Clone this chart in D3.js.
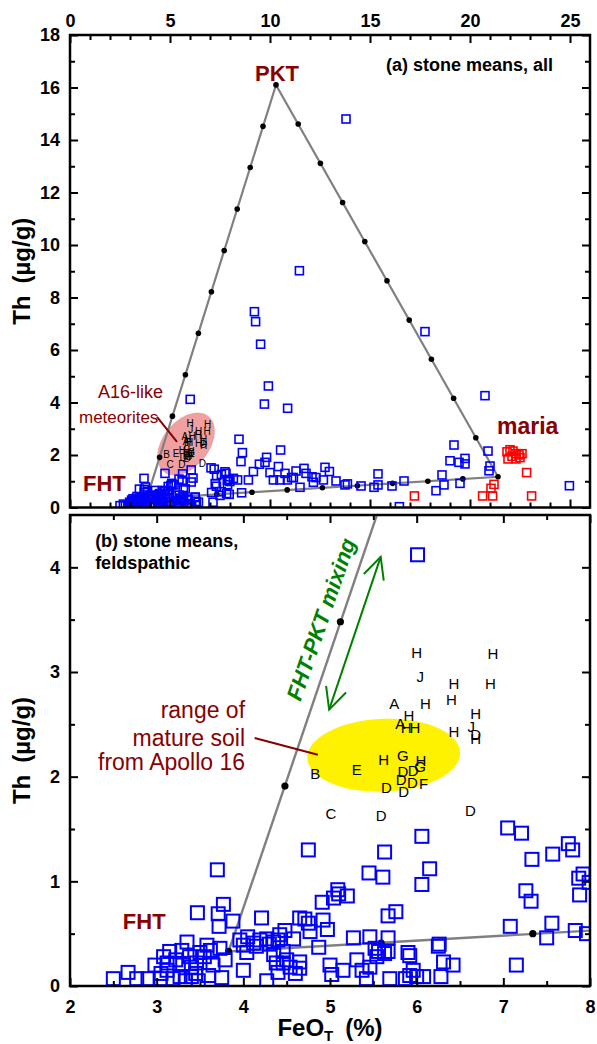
<!DOCTYPE html>
<html>
<head>
<meta charset="utf-8">
<script src="https://cdn.jsdelivr.net/npm/d3@7"></script>
<style>
  body { margin: 0; background: #fff; }
  text { font-family: 'Liberation Sans', Arial, sans-serif; }
</style>
</head>
<body>
<svg id="chart" width="597" height="1044"></svg>
<script>
// ---- data (FeO_T %, Th ug/g) ----

// mixing end members
var endMembers = [
  {name: "FHT", feo: 3.83, th: 0.33},
  {name: "PKT", feo: 10.30, th: 16.10},
  {name: "maria", feo: 21.40, th: 1.17}
];

// black dots along the mixing lines (10% steps)
var mixDots = [
  [3.83, 0.33], [10.30, 16.10], [21.40, 1.17],
  [4.48, 1.91], [5.12, 3.48], [5.77, 5.06], [6.42, 6.64], [7.07, 8.22],
  [7.71, 9.79], [8.36, 11.37], [9.01, 12.95], [9.65, 14.52],
  [11.41, 14.61], [12.52, 13.11], [13.63, 11.62], [14.74, 10.13], [15.85, 8.64],
  [16.96, 7.14], [18.07, 5.65], [19.18, 4.16], [20.29, 2.66],
  [5.59, 0.41], [7.34, 0.50], [9.10, 0.58], [10.86, 0.67], [12.62, 0.75],
  [14.37, 0.83], [16.13, 0.92], [17.89, 1.00], [19.64, 1.09]
];

// feldspathic stone means (blue, both panels)
var feldStones = [
  [6.01, 4.12],
  [3.70, 1.11], [3.77, 0.78], [3.47, 0.70], [3.71, 0.69], [3.72, 0.57], [3.88, 0.62], [4.21, 0.65],
  [4.27, 0.05], [4.00, 0.15],
  [2.50, 0.07], [2.67, 0.13], [2.77, 0.07], [2.90, 0.07], [2.98, 0.20], [3.08, 0.28], [3.15, 0.33],
  [3.35, 0.42], [3.58, 0.39], [3.29, 0.34], [3.38, 0.28], [3.50, 0.32], [3.73, 0.36], [3.75, 0.08],
  [3.65, 0.20], [3.79, 0.25], [3.46, 0.22], [3.12, 0.15], [3.04, 0.07], [3.19, 0.07], [3.27, 0.09],
  [3.40, 0.09], [3.40, 0.18], [3.12, 0.22], [3.22, 0.25], [3.30, 0.20], [3.45, 0.12], [3.55, 0.28],
  [3.62, 0.34], [3.05, 0.12], [3.33, 0.05], [3.48, 0.05], [3.60, 0.10],
  [3.96, 0.44], [4.00, 0.39], [4.04, 0.32], [4.12, 0.41], [4.19, 0.44], [4.27, 0.45], [4.35, 0.42],
  [4.42, 0.49], [4.48, 0.53], [4.58, 0.45], [4.38, 0.22], [4.46, 0.22], [4.54, 0.18], [4.46, 0.33],
  [4.65, 0.65], [4.05, 0.47], [4.15, 0.38], [4.30, 0.40], [4.40, 0.44], [4.35, 0.30], [4.50, 0.25],
  [4.60, 0.12], [4.40, 0.13],
  [4.75, 1.30], [5.63, 1.28], [6.06, 1.43], [6.15, 1.12], [6.06, 0.97], [5.45, 1.08], [5.61, 1.04],
  [5.09, 0.92], [5.10, 0.88], [5.20, 0.86], [5.04, 0.84], [4.91, 0.80], [4.71, 0.64], [4.75, 0.60],
  [4.77, 0.52], [4.92, 0.63], [4.97, 0.54], [4.87, 0.37], [5.27, 0.46], [5.46, 0.47], [5.67, 0.46],
  [5.52, 0.36], [5.56, 0.33], [5.63, 0.31], [5.54, 0.28], [5.67, 0.33], [5.90, 0.32], [5.92, 0.29],
  [5.67, 0.67], [5.76, 0.71], [6.26, 0.40], [6.25, 0.38], [6.31, 0.23], [6.42, 0.20], [6.28, 0.09],
  [5.96, 0.15], [5.92, 0.10], [5.87, 0.07], [6.00, 0.09], [6.08, 0.09], [5.69, 0.07], [5.42, 0.07],
  [5.37, 0.15], [5.46, 0.18], [5.31, 0.25], [5.15, 0.15], [5.00, 0.20], [5.02, 0.11], [4.65, 0.23],
  [4.65, 0.17],
  [7.05, 1.51], [7.21, 1.46], [7.33, 1.21], [7.57, 1.26], [7.75, 1.36], [7.80, 1.30], [7.26, 0.91],
  [7.32, 0.81], [7.87, 1.03], [7.92, 1.07], [7.99, 0.99], [7.88, 0.87], [7.08, 0.57], [7.56, 0.60],
  [7.50, 0.46], [7.83, 0.53], [7.96, 0.50], [7.15, 0.20]
];

// other non-mare stone means (blue, panel a only)
var otherStones = [
  [13.80, 14.80], [11.47, 9.02], [17.75, 6.70], [20.75, 4.26], [19.20, 2.38], [20.90, 2.15],
  [19.00, 1.78], [19.45, 1.72], [19.75, 1.87], [19.75, 1.66], [21.00, 1.58], [20.95, 1.40],
  [18.60, 1.24], [18.70, 0.86], [18.30, 0.64], [19.50, 0.92], [24.97, 0.83], [16.47, 0.03],
  [16.70, 1.01], [15.40, 1.28], [15.40, 0.86], [16.10, 0.82], [15.20, 0.77], [14.55, 0.82],
  [13.87, 0.90], [13.75, 0.86], [13.30, 1.01], [12.75, 1.53], [12.97, 1.37], [12.67, 1.05],
  [11.70, 1.49], [11.30, 1.39], [11.80, 1.30], [12.10, 1.17], [12.30, 1.14], [12.17, 0.96],
  [11.17, 1.14], [11.50, 0.77],
  [9.22, 7.46], [9.28, 7.08], [9.53, 6.22], [9.92, 4.63], [9.72, 3.94], [10.88, 3.78],
  [8.45, 2.60], [8.62, 2.09], [8.55, 1.75], [10.53, 2.19], [9.83, 1.91], [9.47, 1.65],
  [9.75, 1.72], [10.42, 1.56], [9.17, 1.37], [8.92, 1.05], [10.00, 1.33], [10.17, 1.05],
  [10.75, 1.30], [11.08, 1.14], [10.50, 1.05], [10.87, 1.05], [8.17, 1.11], [8.38, 1.05],
  [8.58, 0.56]
];

// mare stone means (red)
var mareStones = [
  [21.85, 2.12], [22.00, 2.20], [22.15, 2.15], [22.30, 2.05], [22.45, 2.00], [22.10, 1.95],
  [21.90, 1.85], [22.30, 1.85], [22.50, 1.90], [22.60, 2.05], [22.83, 1.33], [21.20, 0.88],
  [21.05, 0.73], [20.63, 0.44], [21.13, 0.44], [23.08, 0.44], [17.22, 0.44]
];

// A16-like feldspathic meteorites (letter codes)
var a16Letters = [
  ["H", 6.00, 3.19], ["H", 6.88, 3.18], ["J", 6.04, 2.96], ["H", 6.43, 2.89], ["H", 6.85, 2.89],
  ["A", 5.74, 2.70], ["H", 6.10, 2.70], ["H", 6.40, 2.74], ["H", 6.68, 2.60], ["H", 5.91, 2.58],
  ["A", 5.81, 2.51], ["H", 5.88, 2.47], ["H", 5.98, 2.47], ["H", 6.43, 2.43], ["J", 6.63, 2.48],
  ["D", 6.68, 2.40], ["H", 6.68, 2.36], ["B", 4.83, 2.03], ["E", 5.31, 2.07], ["H", 5.62, 2.16],
  ["G", 5.84, 2.20], ["H", 6.05, 2.15], ["G", 6.04, 2.10], ["D", 5.84, 2.05], ["D", 5.96, 2.06],
  ["D", 5.82, 1.97], ["D", 5.95, 1.94], ["D", 5.65, 1.90], ["D", 5.85, 1.86], ["F", 6.08, 1.93],
  ["C", 5.01, 1.65], ["D", 5.59, 1.63], ["D", 6.62, 1.68]
];

// ellipses: centre and two half-axis vectors, data units
var a16Ellipse = {cx: 5.80, cy: 2.42, ux: 1.12, uy: 1.06, vx: 0.90, vy: -0.55};
var soilEllipse = {cx: 5.62, cy: 2.205, ux: 0.877, uy: 0.057, vx: 0.092, vy: -0.344};

var xTicksA = [0, 5, 10, 15, 20, 25];
var yTicksA = [0, 2, 4, 6, 8, 10, 12, 14, 16, 18];
var xTicksB = [2, 3, 4, 5, 6, 7, 8];
var yTicksB = [0, 1, 2, 3, 4];

// ---- drawing ----
var darkRed = "#880000";
var svg = d3.select("#chart");

var xA = d3.scaleLinear().domain([0, 26]).range([70, 590]);
var yA = d3.scaleLinear().domain([0, 18]).range([507.5, 35]);
var xB = d3.scaleLinear().domain([2, 8]).range([70, 590]);
var yB = d3.scaleLinear().domain([0, 4.5]).range([986, 515]);

var defs = svg.append("defs");
[["clipA", xA, yA], ["clipB", xB, yB]].forEach(function (c) {
    defs.append("clipPath").attr("id", c[0]).append("rect")
        .attr("x", c[1].range()[0]).attr("y", c[2].range()[1])
        .attr("width", c[1].range()[1] - c[1].range()[0])
        .attr("height", c[2].range()[0] - c[2].range()[1]);
});
defs.append("marker").attr("id", "vhead")
    .attr("markerUnits", "userSpaceOnUse")
    .attr("viewBox", "-24 -13 26 26").attr("refX", 0).attr("refY", 0)
    .attr("markerWidth", 26).attr("markerHeight", 26)
    .attr("orient", "auto-start-reverse")
    .append("path").attr("d", "M-21.6,-10.5L0,0L-21.6,10.5")
    .attr("fill", "none").attr("stroke", "#008000").attr("stroke-width", 2);

function minorOf(major, step) {
    var out = [];
    for (var i = 0; i < major.length - 1; i++) {
        for (var v = major[i] + step; v < major[i + 1] - 1e-9; v += step) out.push(+v.toFixed(3));
    }
    return out;
}

function axes(x, y, xMaj, xMin, yMaj, yMin, xLabTop) {
    var g = svg.append("g");
    var y0 = y.range()[0], y1 = y.range()[1], x0 = x.range()[0], x1 = x.range()[1];
    function mk(fn, sc, vals, size, lab, pad, tr) {
        var a = fn(sc).tickValues(vals).tickSize(-size).tickSizeOuter(0).tickPadding(pad)
            .tickFormat(lab ? d3.format("d") : "");
        var ag = g.append("g").attr("transform", tr).call(a);
        ag.select(".domain").remove();
        ag.selectAll("line").attr("stroke", "#000").attr("stroke-width", 2);
        ag.selectAll("text").attr("font-size", 18).attr("font-weight", "bold").attr("fill", "#000");
    }
    mk(d3.axisTop, x, xMaj, 8, xLabTop, 8, "translate(0," + y1 + ")");
    mk(d3.axisTop, x, xMin, 5, false, 8, "translate(0," + y1 + ")");
    mk(d3.axisBottom, x, xMaj, 8, !xLabTop, 14, "translate(0," + y0 + ")");
    mk(d3.axisBottom, x, xMin, 5, false, 14, "translate(0," + y0 + ")");
    mk(d3.axisLeft, y, yMaj, 8, true, 10, "translate(" + x0 + ",0)");
    mk(d3.axisLeft, y, yMin, 5, false, 10, "translate(" + x0 + ",0)");
    mk(d3.axisRight, y, yMaj, 8, false, 10, "translate(" + x1 + ",0)");
    mk(d3.axisRight, y, yMin, 5, false, 10, "translate(" + x1 + ",0)");
    g.append("rect").attr("x", x0).attr("y", y1).attr("width", x1 - x0).attr("height", y0 - y1)
        .attr("fill", "none").attr("stroke", "#000").attr("stroke-width", 2.5);
}

function ellipsePath(e, x, y) {
    var pts = d3.range(0, 72).map(function (i) {
        var t = i / 72 * 2 * Math.PI;
        return [x(e.cx + e.ux * Math.cos(t) + e.vx * Math.sin(t)),
                y(e.cy + e.uy * Math.cos(t) + e.vy * Math.sin(t))];
    });
    return d3.line().curve(d3.curveCardinalClosed)(pts);
}

function squares(g, data, x, y, size, color, sw) {
    g.selectAll(null).data(data).enter().append("rect")
        .attr("x", function (d) { return x(d[0]) - size / 2; })
        .attr("y", function (d) { return y(d[1]) - size / 2; })
        .attr("width", size).attr("height", size)
        .attr("fill", "none").attr("stroke", color).attr("stroke-width", sw);
}

function letters(g, x, y, fs) {
    g.selectAll(null).data(a16Letters).enter().append("text")
        .attr("x", function (d) { return x(d[1]); })
        .attr("y", function (d) { return y(d[2]); })
        .attr("dy", "0.36em").attr("text-anchor", "middle")
        .attr("font-size", fs).attr("fill", "#000").text(function (d) { return d[0]; });
}

function label(g, txt, x, y, opts) {
    var t = g.append("text").attr("x", x).attr("y", y).text(txt);
    Object.keys(opts).forEach(function (k) { t.attr(k, opts[k]); });
    return t;
}

// ---------- panel (a) ----------
var gA = svg.append("g").attr("clip-path", "url(#clipA)");
var em = function (n) { return endMembers.find(function (d) { return d.name === n; }); };
gA.append("path").attr("d", ellipsePath(a16Ellipse, xA, yA)).attr("fill", "#f0a0a0");
gA.append("path")
    .attr("d", d3.line().x(function (d) { return xA(d.feo); }).y(function (d) { return yA(d.th); })
        .curve(d3.curveLinearClosed)(endMembers))
    .attr("fill", "none").attr("stroke", "#808080").attr("stroke-width", 2.2);
gA.selectAll(null).data(mixDots).enter().append("circle")
    .attr("cx", function (d) { return xA(d[0]); }).attr("cy", function (d) { return yA(d[1]); })
    .attr("r", 2.8).attr("fill", "#000");
squares(gA, feldStones, xA, yA, 8, "#0000ff", 1.6);
squares(gA, otherStones, xA, yA, 8, "#0000ff", 1.6);
squares(gA, mareStones, xA, yA, 8, "#ff0000", 1.6);
letters(gA, xA, yA, 10);

gA.append("line").attr("x1", xA(4.35)).attr("y1", yA(3.45)).attr("x2", xA(5.35)).attr("y2", yA(2.50))
    .attr("stroke", darkRed).attr("stroke-width", 2);
label(svg, "A16-like", xA(1.4), yA(4.17), {"font-size": 18, fill: darkRed});
label(svg, "meteorites", xA(0.45), yA(3.22), {"font-size": 17, fill: darkRed});
label(svg, "PKT", xA(em("PKT").feo + 0.05), yA(16.25),
    {"font-size": 22, "font-weight": "bold", fill: darkRed, "text-anchor": "middle"});
label(svg, "FHT", xA(0.65), yA(0.63), {"font-size": 22, "font-weight": "bold", fill: darkRed});
label(svg, "maria", xA(21.35), yA(2.80), {"font-size": 23, "font-weight": "bold", fill: darkRed});
label(svg, "(a) stone means, all", xA(15.8), yA(16.63), {"font-size": 18, "font-weight": "bold", fill: "#000"});

axes(xA, yA, xTicksA, minorOf(xTicksA, 1), yTicksA, minorOf(yTicksA, 1), true);

// ---------- panel (b) ----------
var gB = svg.append("g").attr("clip-path", "url(#clipB)");
gB.append("path").attr("d", ellipsePath(soilEllipse, xB, yB)).attr("fill", "#fff200");
var lineB = d3.line().x(function (d) { return xB(d.feo); }).y(function (d) { return yB(d.th); });
gB.append("path").attr("d", lineB([em("FHT"), em("PKT")]))
    .attr("fill", "none").attr("stroke", "#808080").attr("stroke-width", 2.4);
gB.append("path").attr("d", lineB([em("FHT"), em("maria")]))
    .attr("fill", "none").attr("stroke", "#808080").attr("stroke-width", 2.4);
gB.selectAll(null).data(mixDots).enter().append("circle")
    .attr("cx", function (d) { return xB(d[0]); }).attr("cy", function (d) { return yB(d[1]); })
    .attr("r", 3.6).attr("fill", "#000");
squares(gB, feldStones, xB, yB, 13, "#0000ff", 2);
letters(gB, xB, yB, 15);

gB.append("line").attr("x1", xB(4.13)).attr("y1", yB(2.37)).attr("x2", xB(4.86)).attr("y2", yB(2.21))
    .attr("stroke", darkRed).attr("stroke-width", 2);
gB.append("line").attr("x1", xB(4.99)).attr("y1", yB(2.64)).attr("x2", xB(5.585)).attr("y2", yB(4.10))
    .attr("stroke", "#008000").attr("stroke-width", 2)
    .attr("marker-start", "url(#vhead)").attr("marker-end", "url(#vhead)");

["range of", "mature soil", "from Apollo 16"].forEach(function (s, i) {
    label(svg, s, xB(4.02), yB([2.56, 2.29, 2.06][i]),
        {"font-size": 23, fill: darkRed, "text-anchor": "end"});
});
label(svg, "FHT", xB(2.61), yB(0.54), {"font-size": 22, "font-weight": "bold", fill: darkRed});
label(svg, "(b) stone means,", xB(2.29), yB(4.19), {"font-size": 18, "font-weight": "bold", fill: "#000"});
label(svg, "feldspathic", xB(2.29), yB(3.98), {"font-size": 18, "font-weight": "bold", fill: "#000"});
label(svg, "FHT-PKT mixing", 0, 0, {"font-size": 22, "font-weight": "bold", "font-style": "italic",
    fill: "#008000", "text-anchor": "middle",
    transform: "translate(" + xB(4.98) + "," + yB(3.48) + ") rotate(-71)"});

axes(xB, yB, xTicksB, minorOf(xTicksB, 0.5), yTicksB, minorOf(yTicksB.concat([4.5]), 0.5), false);

// ---------- axis titles ----------
[yA, yB].forEach(function (y) {
    var mid = (y.range()[0] + y.range()[1]) / 2;
    var t = svg.append("text").attr("transform", "translate(30," + mid + ") rotate(-90)")
        .attr("text-anchor", "middle").attr("font-size", 24).attr("font-weight", "bold");
    t.append("tspan").text("Th");
    t.append("tspan").attr("dx", 12).text("(µg/g)");
});
var xt = svg.append("text").attr("x", (xB.range()[0] + xB.range()[1]) / 2).attr("y", 1036)
    .attr("text-anchor", "middle").attr("font-size", 24).attr("font-weight", "bold");
xt.append("tspan").text("FeO");
xt.append("tspan").attr("font-size", 15).attr("dy", 5).text("T");
xt.append("tspan").attr("dy", -5).attr("dx", 12).text("(%)");
</script>
</body>
</html>
